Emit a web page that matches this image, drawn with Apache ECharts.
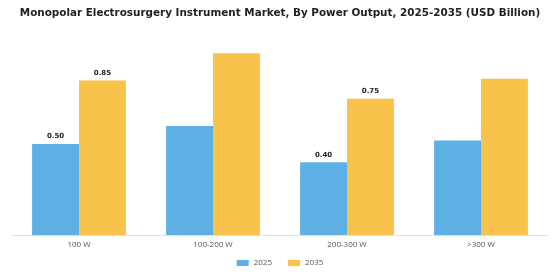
<!DOCTYPE html>
<html>
<head>
<meta charset="utf-8">
<script src="https://cdn.jsdelivr.net/npm/echarts@6/dist/echarts.min.js"></script>
<style>
  html, body { margin: 0; padding: 0; background: #fff; }
  #chart { width: 560px; height: 280px; }
</style>
</head>
<body>
<div id="chart"></div>
<script>
// 数据
var categories = ["100 W", "100-200 W", "200-300 W", ">300 W"];
var values2025 = [0.50, 0.60, 0.40, 0.52];
var values2035 = [0.85, 1.00, 0.75, 0.86];
// only some bars carry a value label in the original
var labeled2025 = [true, false, true, false];
var labeled2035 = [true, false, true, false];

function withLabels(values, flags) {
  return values.map(function (v, i) {
    return { value: v, label: { show: flags[i] } };
  });
}

var chart = echarts.init(document.getElementById("chart"));
var option = {
  title: {
    text: "Monopolar Electrosurgery Instrument Market, By Power Output, 2025-2035 (USD Billion)",
    left: "center",
    top: 3,
    textStyle: {
      fontFamily: "DejaVu Sans",
      fontSize: 10.4,
      fontWeight: "bold",
      color: "#222"
    }
  },
  legend: {
    data: ["2025", "2035"],
    bottom: 8,
    itemWidth: 12,
    itemHeight: 6,
    itemGap: 16,
    icon: "rect",
    textStyle: { fontFamily: "Open Sans", fontSize: 8, color: "#555" }
  },
  grid: {
    left: 12,
    right: 12,
    top: 35,
    bottom: 45
  },
  xAxis: {
    type: "category",
    data: categories,
    axisLine: { lineStyle: { color: "#e0e0e0" } },
    axisTick: { show: false },
    axisLabel: { fontFamily: "Open Sans", fontSize: 8, color: "#555", margin: 6 }
  },
  yAxis: {
    type: "value",
    min: 0,
    max: 1.1,
    show: false,
    splitLine: { show: false }
  },
  series: [
    {
      name: "2025",
      type: "bar",
      barGap: "0%",
      barCategoryGap: "30%",
      itemStyle: { color: "#5DB0E4" },
      label: {
        position: "top",
        formatter: function (p) { return p.value.toFixed(2); },
        fontFamily: "DejaVu Sans",
        fontSize: 7,
        fontWeight: "bold",
        color: "#222",
        distance: 4
      },
      data: withLabels(values2025, labeled2025)
    },
    {
      name: "2035",
      type: "bar",
      itemStyle: { color: "#F8C24B" },
      label: {
        position: "top",
        formatter: function (p) { return p.value.toFixed(2); },
        fontFamily: "DejaVu Sans",
        fontSize: 7,
        fontWeight: "bold",
        color: "#222",
        distance: 4
      },
      data: withLabels(values2035, labeled2035)
    }
  ]
};
chart.setOption(option);
</script>
</body>
</html>
